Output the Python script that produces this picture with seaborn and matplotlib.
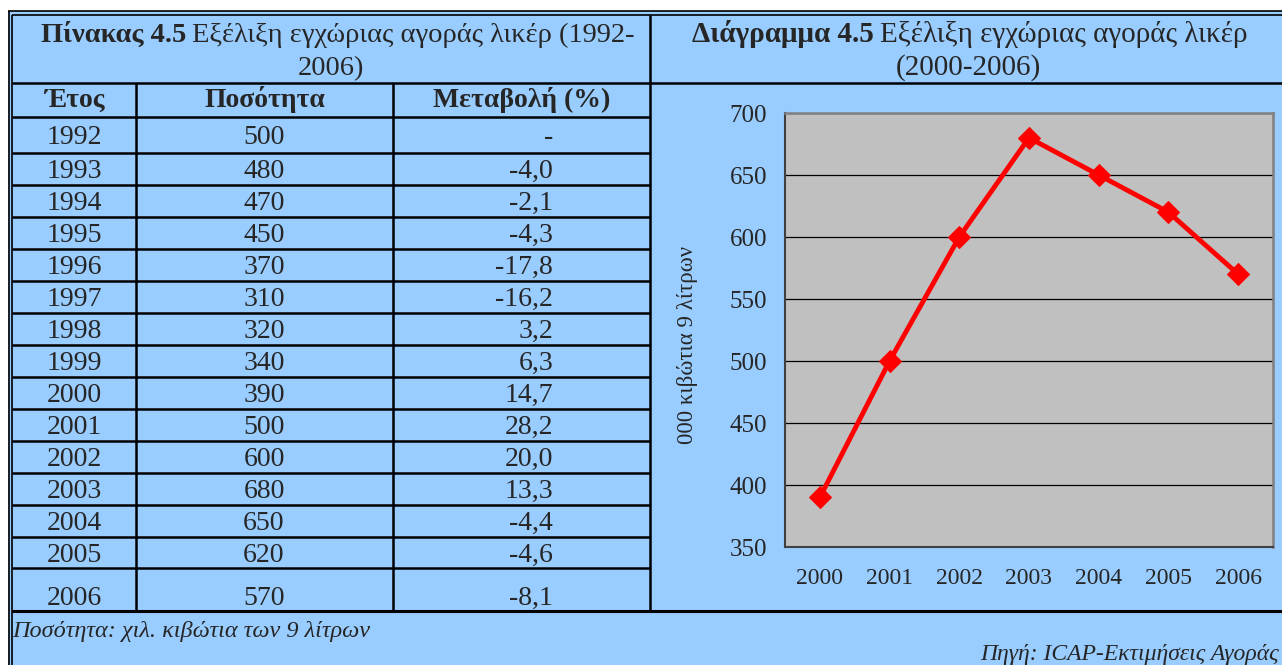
import matplotlib
matplotlib.use("Agg")
import matplotlib.pyplot as plt
import seaborn as sns
import pandas as pd

# table data (1992-2006)
table_years = [1992, 1993, 1994, 1995, 1996, 1997, 1998, 1999,
               2000, 2001, 2002, 2003, 2004, 2005, 2006]
table_quantity = [500, 480, 470, 450, 370, 310, 320, 340,
                  390, 500, 600, 680, 650, 620, 570]
table_change = ["-", "-4,0", "-2,1", "-4,3", "-17,8", "-16,2", "3,2", "6,3",
                "14,7", "28,2", "20,0", "13,3", "-4,4", "-4,6", "-8,1"]

# chart data (2000-2006)
chart_years = ["2000", "2001", "2002", "2003", "2004", "2005", "2006"]
chart_values = [390, 500, 600, 680, 650, 620, 570]

header_labels = ["Έτος", "Ποσότητα", "Μεταβολή (%)"]
table_title_bold = "Πίνακας 4.5"
table_title_rest = "Εξέλιξη εγχώριας αγοράς λικέρ (1992-"
table_title_line2 = "2006)"
chart_title_bold = "Διάγραμμα 4.5"
chart_title_rest = "Εξέλιξη εγχώριας αγοράς λικέρ"
chart_title_line2 = "(2000-2006)"
ylabel = "000 κιβώτια 9 λίτρων"
note_left = "Ποσότητα: χιλ. κιβώτια των 9 λίτρων"
note_right = "Πηγή: ICAP-Εκτιμήσεις Αγοράς"

BG = "#99CCFF"
PLOT_BG = "#C0C0C0"
W, H = 1282, 665

sns.set_style("white")
plt.rcParams["font.family"] = ["Liberation Serif", "DejaVu Serif"]

fig = plt.figure(figsize=(W / 100, H / 100), dpi=100)
fig.patch.set_facecolor("white")

# background axes in pixel coordinates
bg = fig.add_axes([0, 0, 1, 1])
bg.set_xlim(0, W)
bg.set_ylim(H, 0)
bg.axis("off")
bg.add_patch(plt.Rectangle((8, 11), W - 8, H - 11, facecolor=BG, edgecolor="none", zorder=0))

lk = dict(color="black", solid_capstyle="butt")
# double lines, top and left
bg.plot([8, W], [11, 11], lw=1.2, **lk)
bg.plot([12, W], [14.5, 14.5], lw=1.2, **lk)
bg.plot([8.5, 8.5], [11, H], lw=1.2, **lk)
bg.plot([12, 12], [14.5, H], lw=1.2, **lk)
# title separator and panel borders
bg.plot([12, W], [83, 83], lw=1.8, **lk)
bg.plot([650, 650], [14.5, 611], lw=1.8, **lk)
bg.plot([12, W], [611, 611], lw=2.2, **lk)

# table grid
col_edges = [12, 136, 393, 650]
row_edges = [83, 117, 153]
for k in range(1, 13):
    row_edges.append(153 + 32 * k)
row_edges.append(568)
row_edges.append(611)
for y in row_edges[1:-1]:
    bg.plot([12, 650], [y, y], lw=1.8, **lk)
for x in col_edges[1:3]:
    bg.plot([x, x], [83, 611], lw=1.8, **lk)

fs = 20
# header row
hy = (row_edges[0] + row_edges[1]) / 2 + 7
for i, lab in enumerate(header_labels):
    xc = (col_edges[i] + col_edges[i + 1]) / 2
    bg.text(xc, hy, lab, ha="center", va="baseline", fontsize=fs, fontweight="bold")

# body rows
for r in range(len(table_years)):
    top, bot = row_edges[r + 1], row_edges[r + 2]
    yb = (top + bot) / 2 + 9
    if r == len(table_years) - 1:
        yb = 605
    bg.text(74, yb, str(table_years[r]), ha="center", va="baseline", fontsize=fs)
    bg.text(264, yb, str(table_quantity[r]), ha="center", va="baseline", fontsize=fs)
    bg.text(553, yb, table_change[r], ha="right", va="baseline", fontsize=fs)

# titles with bold prefix
renderer = fig.canvas.get_renderer()


def mixed(xc, y, bold, rest, size):
    t1 = bg.text(0, y, bold, ha="left", va="baseline", fontsize=size, fontweight="bold")
    t2 = bg.text(0, y, rest, ha="left", va="baseline", fontsize=size)
    w1 = t1.get_window_extent(renderer).width
    w2 = t2.get_window_extent(renderer).width
    gap = 6
    x0 = xc - (w1 + gap + w2) / 2
    t1.set_x(x0)
    t2.set_x(x0 + w1 + gap)


tfs = 20.5
mixed(338, 42, table_title_bold, table_title_rest, tfs)
bg.text(331, 75, table_title_line2, ha="center", va="baseline", fontsize=tfs)
mixed(970, 42, chart_title_bold, chart_title_rest, 21)
bg.text(968, 75, chart_title_line2, ha="center", va="baseline", fontsize=21)

# footnotes
bg.text(12, 637, note_left, ha="left", va="baseline", fontsize=17.5, fontstyle="italic")
bg.text(1279, 660, note_right, ha="right", va="baseline", fontsize=17, fontstyle="italic")

# line chart
ax = fig.add_axes([785 / W, (H - 547) / H, (1273 - 785) / W, (547 - 113) / H])
ax.set_facecolor(PLOT_BG)
df = pd.DataFrame({"pos": range(len(chart_years)), "value": chart_values})
sns.lineplot(data=df, x="pos", y="value", ax=ax, color="red", marker="D",
             markersize=11.5, markeredgecolor="red", linewidth=3.5, zorder=3)
ax.set_xlim(-0.5, len(chart_years) - 0.5)
ax.set_ylim(350, 700)
ax.set_yticks(range(350, 701, 50))
ax.set_xticks(range(len(chart_years)))
ax.set_xticklabels(chart_years)
ax.set_xticks([i - 0.5 for i in range(len(chart_years) + 1)], minor=True)
ax.tick_params(axis="x", which="major", length=0, pad=15, labelsize=17)
ax.tick_params(axis="x", which="minor", length=5, width=1, color="#404040", direction="out")
ax.tick_params(axis="y", which="major", length=5, width=1, color="#404040",
               direction="out", pad=8, labelsize=18)
ax.yaxis.grid(True, color="black", linewidth=0.9)
ax.set_axisbelow(True)
ax.set_xlabel("")
ax.set_ylabel("")
for s in ["top", "right"]:
    ax.spines[s].set_color("#808080")
    ax.spines[s].set_linewidth(1.8)
for s in ["left", "bottom"]:
    ax.spines[s].set_color("#404040")
    ax.spines[s].set_linewidth(1.5)
bg.text(687, 345, ylabel, ha="center", va="center", rotation=90, fontsize=16.5)

fig.savefig("out.png", dpi=100, facecolor=fig.get_facecolor())
